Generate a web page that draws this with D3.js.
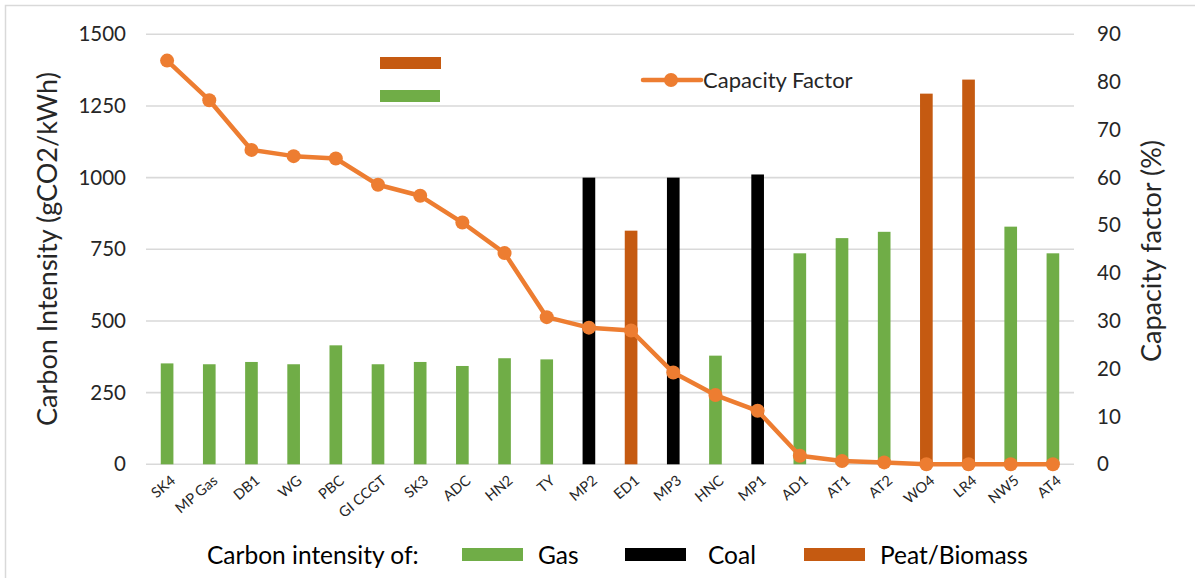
<!DOCTYPE html>
<html>
<head>
<meta charset="utf-8">
<script src="https://cdn.jsdelivr.net/npm/d3@7"></script>
<style>
  html, body { margin: 0; padding: 0; background: #fff; }
  svg { display: block; font-family: Lato, "Open Sans", sans-serif; }
</style>
</head>
<body>
<svg id="chart" width="1195" height="578"></svg>
<script>
// Plants along the x axis
const plants = ["SK4", "MP Gas", "DB1", "WG", "PBC", "GI CCGT", "SK3", "ADC", "HN2", "TY",
  "MP2", "ED1", "MP3", "HNC", "MP1", "AD1", "AT1", "AT2", "WO4", "LR4", "NW5", "AT4"];
// Fuel type of each plant
const fuels = ["Gas", "Gas", "Gas", "Gas", "Gas", "Gas", "Gas", "Gas", "Gas", "Gas",
  "Coal", "Peat/Biomass", "Coal", "Gas", "Coal", "Gas", "Gas", "Gas", "Peat/Biomass", "Peat/Biomass", "Gas", "Gas"];
// Carbon intensity (gCO2/kWh)
const intensity = [352, 349, 357, 349, 415, 349, 357, 343, 370, 366,
  1000, 815, 1000, 379, 1011, 736, 789, 811, 1293, 1342, 829, 736];
// Capacity factor (%)
const capacity = [84.5, 76.2, 65.8, 64.5, 64.0, 58.5, 56.2, 50.6, 44.2, 30.8,
  28.6, 28.0, 19.2, 14.5, 11.2, 1.8, 0.7, 0.4, 0.0, 0.0, 0.0, 0.0];
// Axis ticks
const leftTicks = [0, 250, 500, 750, 1000, 1250, 1500];
const rightTicks = [0, 10, 20, 30, 40, 50, 60, 70, 80, 90];
const fuelNames = ["Gas", "Coal", "Peat/Biomass"];
const fuelColors = ["#70AD47", "#000000", "#C55A11"];

const lineColor = "#ED7D31";
const gridColor = "#D9D9D9";
const textColor = "#262626";

const svg = d3.select("#chart");
const plotLeft = 146, plotRight = 1074, plotTop = 34.3, plotBottom = 464.3;

const color = d3.scaleOrdinal().domain(fuelNames).range(fuelColors);
const x = d3.scaleBand().domain(plants).range([plotLeft, plotRight]).paddingInner(0.7).paddingOuter(0.35);
const yL = d3.scaleLinear().domain([0, 1500]).range([plotBottom, plotTop]);
const yR = d3.scaleLinear().domain([0, 90]).range([plotBottom, plotTop]);

// outer frame
svg.append("rect").attr("x", 5.5).attr("y", 5.5).attr("width", 1200).attr("height", 600)
  .attr("fill", "none").attr("stroke", gridColor).attr("stroke-width", 1.5);

// gridlines
svg.append("g").selectAll("line").data(leftTicks).join("line")
  .attr("x1", plotLeft).attr("x2", plotRight)
  .attr("y1", d => yL(d)).attr("y2", d => yL(d))
  .attr("stroke", gridColor).attr("stroke-width", 1.6);

// left axis labels
const axL = svg.append("g").attr("transform", `translate(${plotLeft - 20},0)`)
  .call(d3.axisLeft(yL).tickValues(leftTicks).tickFormat(d3.format("d")).tickSize(0).tickPadding(0));
axL.select(".domain").remove();
axL.selectAll("text").attr("font-size", 20.5).attr("fill", textColor).attr("font-family", "Lato, sans-serif");

// right axis labels
const axR = svg.append("g").attr("transform", `translate(${plotRight + 23},0)`)
  .call(d3.axisRight(yR).tickValues(rightTicks).tickFormat(d3.format("d")).tickSize(0).tickPadding(0));
axR.select(".domain").remove();
axR.selectAll("text").attr("font-size", 20.5).attr("fill", textColor).attr("font-family", "Lato, sans-serif");

// x axis labels
const axX = svg.append("g").attr("transform", `translate(0,${plotBottom})`)
  .call(d3.axisBottom(x).tickSize(0).tickPadding(0));
axX.select(".domain").remove();
axX.selectAll("text")
  .attr("font-size", 14.5).attr("fill", textColor).attr("font-family", "Lato, sans-serif")
  .attr("text-anchor", "end")
  .attr("transform", "translate(6,14) rotate(-40)")
  .attr("dy", "0.35em").attr("y", 0);

// bars
svg.append("g").selectAll("rect").data(plants).join("rect")
  .attr("x", d => x(d))
  .attr("width", x.bandwidth())
  .attr("y", (d, i) => yL(intensity[i]))
  .attr("height", (d, i) => yL(0) - yL(intensity[i]))
  .attr("fill", (d, i) => color(fuels[i]));

// capacity factor line
const cx = d => x(d) + x.bandwidth() / 2;
const line = d3.line().x(d => cx(d.p)).y(d => yR(d.v));
const pts = plants.map((p, i) => ({ p, v: capacity[i] }));
svg.append("path").datum(pts).attr("d", line)
  .attr("fill", "none").attr("stroke", lineColor).attr("stroke-width", 4.5).attr("stroke-linejoin", "round");
svg.append("g").selectAll("circle").data(pts).join("circle")
  .attr("cx", d => cx(d.p)).attr("cy", d => yR(d.v)).attr("r", 7).attr("fill", lineColor);

// axis titles
svg.append("text").attr("transform", "translate(57,249) rotate(-90)")
  .attr("text-anchor", "middle").attr("font-size", 27).attr("fill", textColor)
  .text("Carbon Intensity (gCO2/kWh)");
svg.append("text").attr("transform", "translate(1161,251) rotate(-90)")
  .attr("text-anchor", "middle").attr("font-size", 27).attr("fill", textColor)
  .text("Capacity factor (%)");

// top legend entries
svg.append("rect").attr("x", 380).attr("y", 57).attr("width", 61).attr("height", 12).attr("fill", color("Peat/Biomass"));
svg.append("rect").attr("x", 380).attr("y", 90).attr("width", 60).attr("height", 12).attr("fill", color("Gas"));
svg.append("line").attr("x1", 643).attr("x2", 701).attr("y1", 80).attr("y2", 80)
  .attr("stroke", lineColor).attr("stroke-width", 4.5).attr("stroke-linecap", "round");
svg.append("circle").attr("cx", 671).attr("cy", 80).attr("r", 7).attr("fill", lineColor);
svg.append("text").attr("x", 703).attr("y", 80).attr("dy", "0.35em")
  .attr("font-size", 22).attr("fill", textColor).text("Capacity Factor");

// bottom legend
svg.append("text").attr("x", 207).attr("y", 555).attr("dy", "0.35em")
  .attr("font-size", 24.5).attr("fill", "#000").text("Carbon intensity of:");
const legX = [462, 625, 804];
const legTextX = [538, 708, 880];
const bl = svg.append("g");
fuelNames.forEach((f, i) => {
  bl.append("rect").attr("x", legX[i]).attr("y", 548).attr("width", 61).attr("height", 13).attr("fill", color(f));
  bl.append("text").attr("x", legTextX[i]).attr("y", 555).attr("dy", "0.35em")
    .attr("font-size", 24.5).attr("fill", "#000").text(f);
});
</script>
</body>
</html>
